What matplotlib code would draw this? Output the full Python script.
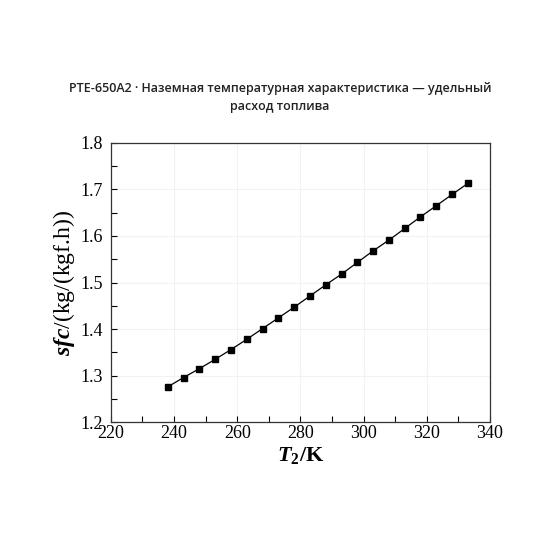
import matplotlib
matplotlib.use("Agg")
import matplotlib.pyplot as plt
from matplotlib.ticker import MultipleLocator

# Ground temperature characteristic: specific fuel consumption vs T2
T2_K = [238, 243, 248, 253, 258, 263, 268, 273, 278, 283,
        288, 293, 298, 303, 308, 313, 318, 323, 328, 333]
SFC = [1.276, 1.296, 1.315, 1.335, 1.356, 1.378, 1.401, 1.424, 1.447, 1.471,
       1.495, 1.518, 1.543, 1.568, 1.591, 1.616, 1.641, 1.665, 1.689, 1.713]

TITLE = ("PTE-650A2 · Наземная температурная характеристика — удельный\n"
         "расход топлива")

plt.rcParams["mathtext.fontset"] = "custom"
plt.rcParams["mathtext.rm"] = "Liberation Serif"
plt.rcParams["mathtext.it"] = "Liberation Serif:italic"
plt.rcParams["mathtext.bf"] = "Liberation Serif:bold"
plt.rcParams["mathtext.bfit"] = "Liberation Serif:italic:bold"

fig = plt.figure(figsize=(5.6, 5.6), dpi=100)
ax = fig.add_axes([0.198, 0.246, 0.677, 0.499])

ax.plot(T2_K, SFC, color="black", lw=0.9, marker="s", ms=4.2,
        mfc="black", mec="black")

ax.set_xlim(220, 340)
ax.set_ylim(1.2, 1.8)
ax.xaxis.set_major_locator(MultipleLocator(20))
ax.xaxis.set_minor_locator(MultipleLocator(10))
ax.yaxis.set_major_locator(MultipleLocator(0.1))
ax.yaxis.set_minor_locator(MultipleLocator(0.05))
ax.grid(True, which="major", color="#f2f2f2", lw=0.8)
ax.set_axisbelow(True)

ax.tick_params(which="both", direction="in", top=False, right=False,
               length=4, width=0.8, labelsize=13)
ax.tick_params(axis="x", pad=2)
ax.tick_params(axis="y", pad=6)
for lab in ax.get_xticklabels() + ax.get_yticklabels():
    lab.set_fontfamily("Liberation Serif")
for sp in ax.spines.values():
    sp.set_linewidth(0.9)
    sp.set_color("#333333")

ax.set_xlabel(r"$\mathbfit{T}_{\mathbf{2}}$/K", fontsize=16,
              fontfamily="Liberation Serif", fontweight="bold", labelpad=2)
ax.set_ylabel(r"$\mathbfit{sfc}$/(kg/(kgf.h))", fontsize=17,
              fontfamily="Liberation Serif", labelpad=2)

fig.text(0.5, 0.826, TITLE, ha="center", va="center", fontsize=9,
         fontfamily="Open Sans", fontweight="semibold", color="#222222",
         linespacing=1.5)

fig.savefig("out.png", dpi=100)
